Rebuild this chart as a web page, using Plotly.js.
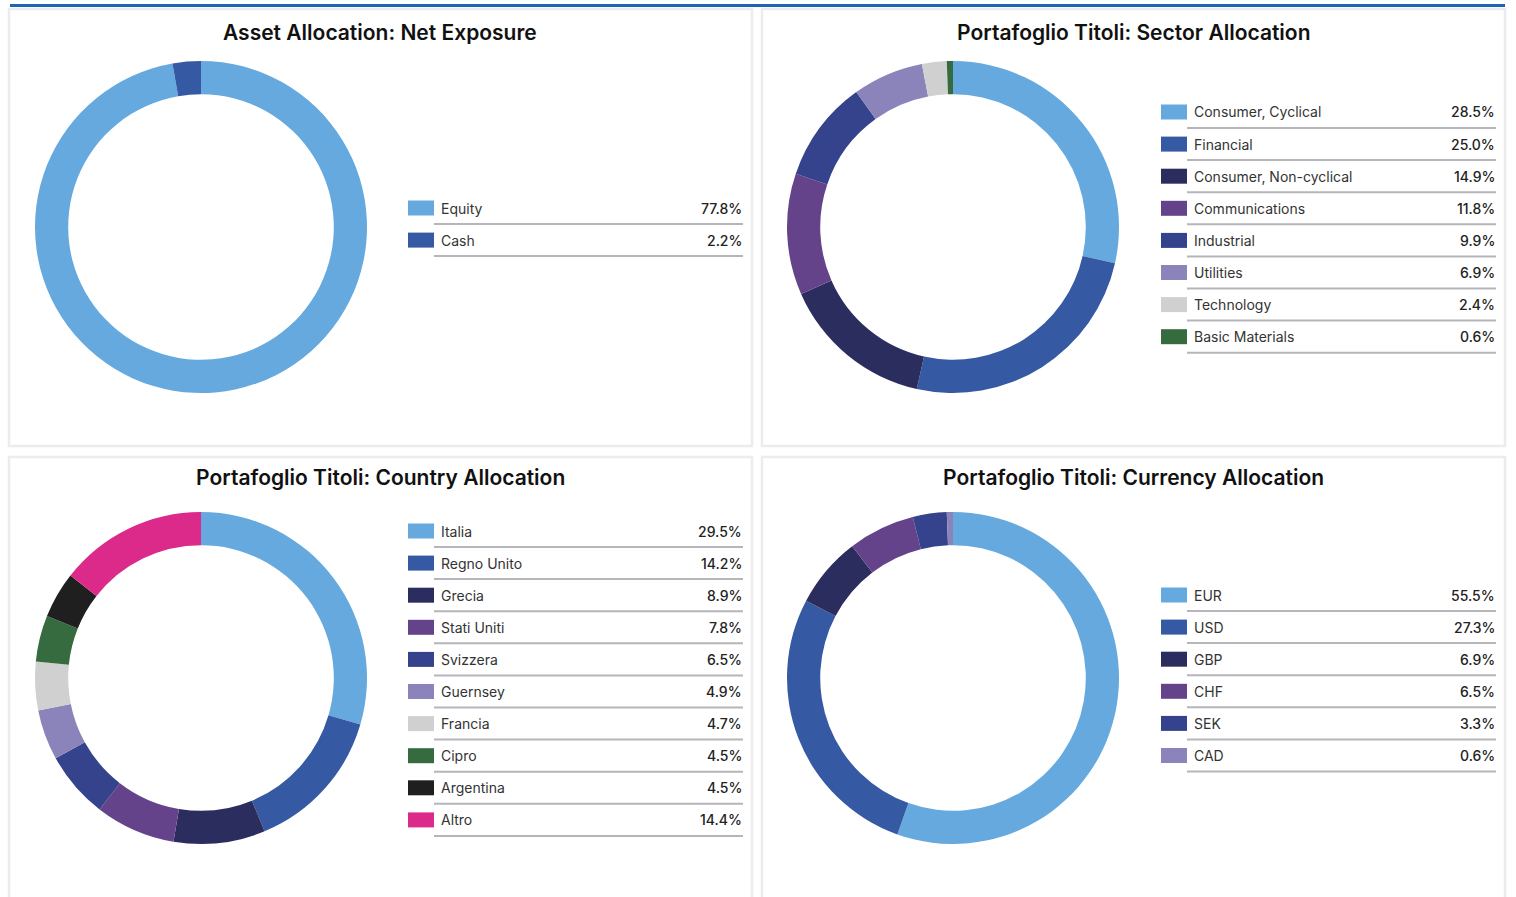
<!DOCTYPE html>
<html>
<head>
<meta charset="utf-8">
<script src="https://cdn.plot.ly/plotly-3.0.1.min.js"></script>
<style>
html,body{margin:0;padding:0;background:#fff;}
#chart{width:1516px;height:897px;}
</style>
</head>
<body>
<div id="chart"></div>
<script>
// ---- DATA ----
const assetTitle = "Asset Allocation: Net Exposure";
const assetLabels = ["Equity", "Cash"];
const assetValues = [77.8, 2.2];
const assetColors = ["#65a9de", "#3559a3"];

const sectorTitle = "Portafoglio Titoli: Sector Allocation";
const sectorLabels = ["Consumer, Cyclical", "Financial", "Consumer, Non-cyclical", "Communications", "Industrial", "Utilities", "Technology", "Basic Materials"];
const sectorValues = [28.5, 25.0, 14.9, 11.8, 9.9, 6.9, 2.4, 0.6];
const sectorColors = ["#65a9de", "#3559a3", "#2c2d5f", "#65438a", "#34438b", "#8a84bb", "#d0d0d0", "#356b3e"];

const countryTitle = "Portafoglio Titoli: Country Allocation";
const countryLabels = ["Italia", "Regno Unito", "Grecia", "Stati Uniti", "Svizzera", "Guernsey", "Francia", "Cipro", "Argentina", "Altro"];
const countryValues = [29.5, 14.2, 8.9, 7.8, 6.5, 4.9, 4.7, 4.5, 4.5, 14.4];
const countryColors = ["#65a9de", "#3559a3", "#2c2d5f", "#65438a", "#34438b", "#8a84bb", "#d0d0d0", "#356b3e", "#1f1f1f", "#dc2a8a"];

const currencyTitle = "Portafoglio Titoli: Currency Allocation";
const currencyLabels = ["EUR", "USD", "GBP", "CHF", "SEK", "CAD"];
const currencyValues = [55.5, 27.3, 6.9, 6.5, 3.3, 0.6];
const currencyColors = ["#65a9de", "#3559a3", "#2c2d5f", "#65438a", "#34438b", "#8a84bb"];

// ---- LAYOUT ----
const W = 1516, H = 897;
const px = x => x / W;
const py = y => 1 - y / H;
const FONT = "Inter, 'Noto Sans', Roboto, sans-serif";

const panels = [
  {title: assetTitle, labels: assetLabels, values: assetValues, colors: assetColors, x0: 9, x1: 752, y0: 9, y1: 446, ty: 33, cx: 201, cy: 227, lx: 408},
  {title: sectorTitle, labels: sectorLabels, values: sectorValues, colors: sectorColors, x0: 762, x1: 1505, y0: 9, y1: 446, ty: 33, cx: 953, cy: 227, lx: 1161},
  {title: countryTitle, labels: countryLabels, values: countryValues, colors: countryColors, x0: 9, x1: 752, y0: 457, y1: 910, ty: 477, cx: 201, cy: 678, lx: 408},
  {title: currencyTitle, labels: currencyLabels, values: currencyValues, colors: currencyColors, x0: 762, x1: 1505, y0: 457, y1: 910, ty: 477, cx: 953, cy: 678, lx: 1161}
];

const R = 166;
const traces = [];
const shapes = [];
const annotations = [];

// top accent line
shapes.push({type: "line", xref: "paper", yref: "paper", x0: px(10), x1: px(1505), y0: py(5.5), y1: py(5.5), line: {color: "#1f63b3", width: 3}});

panels.forEach(p => {
  shapes.push({type: "rect", xref: "paper", yref: "paper", x0: px(p.x0), x1: px(p.x1), y0: py(p.y0), y1: py(p.y1), line: {color: "#ececec", width: 2.5}, fillcolor: "rgba(0,0,0,0)", layer: "below"});
  annotations.push({xref: "paper", yref: "paper", x: px((p.x0 + p.x1) / 2), y: py(p.ty), text: p.title, showarrow: false, xanchor: "center", yanchor: "middle", font: {family: FONT, size: 21, color: "#111", weight: 600}});
  traces.push({
    type: "pie", labels: p.labels, values: p.values, sort: false, direction: "clockwise", rotation: 0,
    hole: 0.8, textinfo: "none", hoverinfo: "label+value", showlegend: false,
    marker: {colors: p.colors, line: {width: 0}},
    domain: {x: [px(p.cx - R), px(p.cx + R)], y: [py(p.cy + R), py(p.cy - R)]}
  });
  const n = p.labels.length;
  const y0 = p.cy - 16 * n + 13;
  p.labels.forEach((lab, i) => {
    const y = y0 + i * 32.1;
    shapes.push({type: "rect", xref: "paper", yref: "paper", x0: px(p.lx), x1: px(p.lx + 26), y0: py(y + 7.5), y1: py(y - 7.5), fillcolor: p.colors[i], line: {width: 0}});
    shapes.push({type: "line", xref: "paper", yref: "paper", x0: px(p.lx + 26), x1: px(p.lx + 335), y0: py(y + 16), y1: py(y + 16), line: {color: "#b5b5bb", width: 2}});
    annotations.push({xref: "paper", yref: "paper", x: px(p.lx + 31), y: py(y), text: lab, showarrow: false, xanchor: "left", yanchor: "middle", font: {family: FONT, size: 14, color: "#333"}});
    annotations.push({xref: "paper", yref: "paper", x: px(p.lx + 336), y: py(y), text: p.values[i].toFixed(1) + "%", showarrow: false, xanchor: "right", yanchor: "middle", font: {family: FONT, size: 14, color: "#222", weight: 500}});
  });
});

const layout = {
  width: W, height: H, margin: {l: 0, r: 0, t: 0, b: 0},
  paper_bgcolor: "#fff", plot_bgcolor: "#fff",
  shapes: shapes, annotations: annotations, showlegend: false
};
Plotly.newPlot("chart", traces, layout, {displayModeBar: false, staticPlot: false});
</script>
</body>
</html>
